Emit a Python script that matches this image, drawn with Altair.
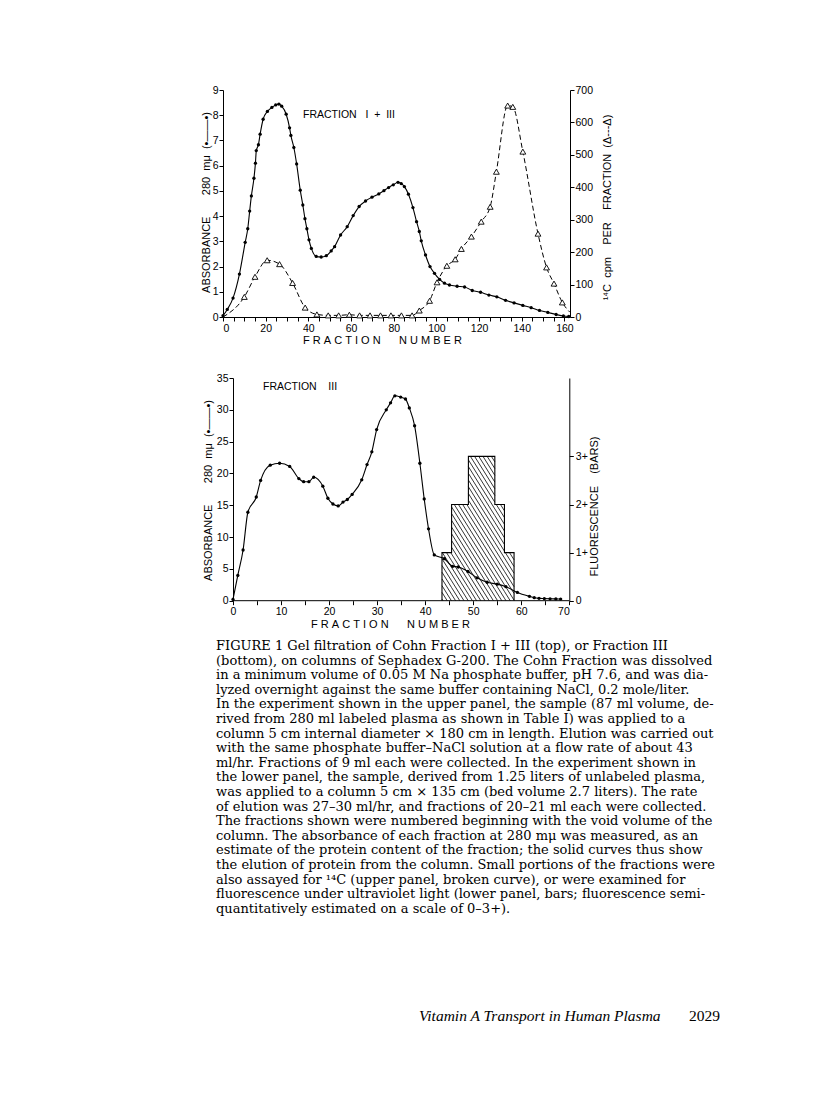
import altair as alt
import pandas as pd
import math

NB = "\u00a0"

# ---------------- data: upper panel (Fraction I + III) ----------------
top_abs_frac = [0, 2, 4.7, 7.7, 10.4, 11.6, 12.5, 13.3, 14.5, 15.2, 15.6, 16.6, 17.4, 18.8, 20.8, 22.9,
                24.7, 26.2, 27.5, 29.6, 31.2, 31.8, 33.2, 34.5, 36.2, 37.4, 38.4, 39.3, 40.3, 41.4, 43.7,
                46.0, 48.4, 50.7, 52.3, 55.1, 58.2, 61.0, 63.8, 66.8, 69.8, 73.0, 75.4, 77.6, 79.8, 82.0,
                83.5, 85.0, 86.9, 89.0, 90.7, 92.0, 92.9, 94.9, 97.0, 99.1, 101.5, 103.8, 106.1, 109.7,
                113.2, 116.8, 120.7, 124.6, 128.3, 132.4, 136.4, 140.5, 144.4, 148.3, 152.2, 156.1, 159.5, 162]
top_abs_val = [0.05, 0.3, 0.75, 1.7, 2.96, 3.5, 4.2, 4.8, 5.5, 6.1, 6.6, 6.83, 7.25, 7.84, 8.15, 8.31,
               8.41, 8.44, 8.36, 8.04, 7.5, 7.2, 6.72, 6.07, 5.03, 4.44, 3.9, 3.5, 3.06, 2.72, 2.4,
               2.38, 2.43, 2.62, 2.79, 3.25, 3.58, 4.02, 4.38, 4.6, 4.75, 4.88, 5.01, 5.13, 5.24, 5.34,
               5.29, 5.17, 4.87, 4.34, 3.78, 3.39, 3.02, 2.46, 2.0, 1.73, 1.49, 1.34, 1.27, 1.22,
               1.19, 1.05, 0.98, 0.87, 0.8, 0.66, 0.56, 0.46, 0.37, 0.26, 0.18, 0.1, 0.04, 0.02]

top_cpm_frac = [0, 10, 15, 20.7, 26.5, 32.6, 38.5, 44, 49.3, 54.2, 59.2, 64, 68.9, 73.8, 78.7, 83.6, 88.6,
                92, 96.8, 100.3, 104.9, 108.8, 111.7, 116.4, 121, 125.2, 128.1, 133.4, 135.8, 140.5,
                147.6, 151.6, 155.1, 159, 162.5]
top_cpm_val = [0, 62, 124, 175, 163, 105, 29, 8, 5, 5, 7, 5, 5, 5, 5, 5, 5,
               20, 50, 107, 158, 178, 210, 248, 294, 340, 448, 652, 648, 510,
               257, 153, 103, 45, 15]
top_cpm_marker = [False] + [True] * 33 + [False]

# ---------------- data: lower panel (Fraction III) ----------------
bot_abs_frac = [0, 1.0, 2.1, 3.1, 4.85, 5.75, 7.75, 9.7, 11.8, 13.7, 14.7, 15.8, 16.8, 18.7, 19.75, 20.8,
                21.9, 22.9, 23.8, 24.8, 26.8, 27.9, 28.9, 29.9, 31.9, 32.8, 33.7, 34.9, 35.9, 36.7, 37.8,
                38.9, 39.8, 40.7, 41.9, 44.0, 45.7, 46.9, 48.9, 50.8, 52.9, 55.0, 56.8, 59.2, 61.7, 62.7,
                63.7, 64.8, 66.0, 67.2, 68.2]
bot_abs_val = [0.2, 3.98, 7.97, 13.9, 16.3, 18.9, 21.3, 21.6, 21.1, 19.2, 18.7, 18.7, 19.4, 18.0, 16.1, 15.2,
               14.9, 15.5, 15.9, 16.7, 19.0, 21.4, 23.4, 26.9, 30.0, 31.1, 32.2, 32.0, 31.7, 30.3, 27.5,
               21.6, 16.0, 11.3, 7.2, 6.6, 5.4, 5.3, 4.6, 3.6, 2.9, 2.6, 2.2, 1.3, 0.68, 0.47,
               0.37, 0.33, 0.3, 0.28, 0.26]

fluor_edges = [43.5, 45.5, 49.0, 54.5, 56.5, 58.5]
fluor_levels = [1, 2, 3, 2, 1]

# ---------------- ticks / labels / text ----------------
top_x_ticks = list(range(0, 161, 5))
top_y_ticks = list(range(0, 10))
top_cpm_ticks = list(range(0, 701, 100))
bot_x_ticks = list(range(0, 71, 5))
bot_y_ticks = list(range(0, 36, 5))
fluor_ticks = [0, 1, 2, 3]


def sp(s):
    return s.replace(" ", NB)


top_panel_label = sp("FRACTION   I  +  III")
bot_panel_label = sp("FRACTION    III")
x_title = sp("F R A C T I O N      N U M B E R")
abs_title = sp("ABSORBANCE       280  mμ  (•——•)")
cpm_title = sp("¹⁴C  cpm    PER    FRACTION  (Δ---Δ)")
fl_title = sp("FLUORESCENCE    (BARS)")

caption_lines = [
    "FIGURE 1  Gel filtration of Cohn Fraction I + III (top), or Fraction III",
    "(bottom), on columns of Sephadex G-200. The Cohn Fraction was dissolved",
    "in a minimum volume of 0.05 M Na phosphate buffer, pH 7.6, and was dia-",
    "lyzed overnight against the same buffer containing NaCl, 0.2 mole/liter.",
    "In the experiment shown in the upper panel, the sample (87 ml volume, de-",
    "rived from 280 ml labeled plasma as shown in Table I) was applied to a",
    "column 5 cm internal diameter × 180 cm in length. Elution was carried out",
    "with the same phosphate buffer–NaCl solution at a flow rate of about 43",
    "ml/hr. Fractions of 9 ml each were collected. In the experiment shown in",
    "the lower panel, the sample, derived from 1.25 liters of unlabeled plasma,",
    "was applied to a column 5 cm × 135 cm (bed volume 2.7 liters). The rate",
    "of elution was 27–30 ml/hr, and fractions of 20–21 ml each were collected.",
    "The fractions shown were numbered beginning with the void volume of the",
    "column. The absorbance of each fraction at 280 mμ was measured, as an",
    "estimate of the protein content of the fraction; the solid curves thus show",
    "the elution of protein from the column. Small portions of the fractions were",
    "also assayed for ¹⁴C (upper panel, broken curve), or were examined for",
    "fluorescence under ultraviolet light (lower panel, bars; fluorescence semi-",
    "quantitatively estimated on a scale of 0–3+).",
]
footer_title = "Vitamin A Transport in Human Plasma"
footer_page = "2029"

FONT = "Liberation Sans"

# ---------------- geometry ----------------
TW, TH = 347, 227
BW, BH = 346.3, 222.7
BX0 = -2.08
FL_MAX = 4.63

# ================= upper panel =================
top_abs_df = pd.DataFrame({"frac": top_abs_frac, "abs": top_abs_val})
top_cpm_df = pd.DataFrame({"frac": top_cpm_frac, "cpm": top_cpm_val, "marker": top_cpm_marker})

x_top = alt.X("frac:Q", scale=alt.Scale(domain=[0, 162.6], nice=False, zero=False),
              axis=alt.Axis(values=top_x_ticks, labelExpr="datum.value % 20 == 0 ? datum.label : ''",
                            title=x_title, titleX=159, titleY=23, titleAlign="center",
                            titleBaseline="middle", labelPadding=2))
y_top_abs = alt.Y("abs:Q", scale=alt.Scale(domain=[0, 9], nice=False),
                  axis=alt.Axis(orient="left", values=top_y_ticks, title=abs_title, titleAngle=270,
                                titleX=-17, titleY=112, titleAlign="center", titleBaseline="middle",
                                labelPadding=1))
y_top_cpm = alt.Y("cpm:Q", scale=alt.Scale(domain=[0, 700], nice=False),
                  axis=alt.Axis(orient="right", values=top_cpm_ticks, title=cpm_title, titleAngle=270,
                                titleX=37, titleY=117, titleAlign="center", titleBaseline="middle",
                                labelPadding=1))

t_abs_line = alt.Chart(top_abs_df).mark_line(interpolate="monotone", color="black", strokeWidth=1.1).encode(
    x=x_top, y=y_top_abs)
t_abs_pts = alt.Chart(top_abs_df).mark_circle(color="black", size=11, opacity=1).encode(x=x_top, y=y_top_abs)
t_label = alt.Chart(pd.DataFrame({"t": [top_panel_label]})).mark_text(
    align="left", baseline="middle", font=FONT, fontSize=10.5, color="black").encode(
    text="t:N", x=alt.value(80), y=alt.value(25))
t_cpm_line = alt.Chart(top_cpm_df).mark_line(interpolate="monotone", color="black", strokeWidth=1,
                                              strokeDash=[5, 3]).encode(x=x_top, y=y_top_cpm)
t_cpm_pts = alt.Chart(top_cpm_df).transform_filter("datum.marker").mark_point(
    shape="triangle-up", filled=True, fill="white", stroke="black", strokeWidth=0.9, size=34,
    opacity=1).encode(x=x_top, y=y_top_cpm)

top = alt.layer(alt.layer(t_abs_line, t_abs_pts, t_label),
                alt.layer(t_cpm_line, t_cpm_pts)).resolve_scale(y="independent").properties(width=TW, height=TH)

# ================= lower panel =================
bot_abs_df = pd.DataFrame({"frac": bot_abs_frac, "abs": bot_abs_val})

# outline of the stepped fluorescence bars
out_x = [fluor_edges[0]] + fluor_edges[:-1] + [fluor_edges[-1]]
out_y = [0] + fluor_levels + [0]
outline_df = pd.DataFrame({"frac": out_x, "fl": out_y, "i": list(range(len(out_x)))})

# diagonal hatching clipped to each bar
XPX = BW / (70 - BX0)
YPX = BH / FL_MAX
slope, gap = 1.6, 4.2
hatch = []
for x0, x1, h in zip(fluor_edges[:-1], fluor_edges[1:], fluor_levels):
    X0, X1, H = x0 * XPX, x1 * XPX, h * YPX
    k0 = math.floor(slope * X0 / (slope * gap)) - 1
    k1 = math.ceil((slope * X1 + H) / (slope * gap)) + 1
    for k in range(k0, k1 + 1):
        c = k * slope * gap
        xa = max(X0, (c - H) / slope)
        xb = min(X1, c / slope)
        if xb > xa + 0.05:
            hatch.append({"frac": xa / XPX, "frac2": xb / XPX,
                          "fl": (c - slope * xa) / YPX, "fl2": (c - slope * xb) / YPX})
hatch_df = pd.DataFrame(hatch)
base_df = pd.DataFrame({"frac": [bot_x_ticks[0]], "frac2": [bot_x_ticks[-1]]})

x_bot = alt.X("frac:Q", scale=alt.Scale(domain=[BX0, 70], nice=False, zero=False),
              axis=alt.Axis(values=bot_x_ticks, domain=False,
                            labelExpr="datum.value % 10 == 0 ? datum.label : ''",
                            title=x_title, titleX=167, titleY=24, titleAlign="center",
                            titleBaseline="middle", labelPadding=2))
y_bot_abs = alt.Y("abs:Q", scale=alt.Scale(domain=[0, 35], nice=False),
                  axis=alt.Axis(orient="left", values=bot_y_ticks, offset=-10, title=abs_title,
                                titleAngle=270, titleX=-25, titleY=112, titleAlign="center",
                                titleBaseline="middle", labelPadding=1))
y_fl = alt.Y("fl:Q", scale=alt.Scale(domain=[0, FL_MAX], nice=False),
             axis=alt.Axis(orient="right", values=fluor_ticks,
                           labelExpr="datum.value == 0 ? '0' : datum.value + '+'",
                           title=fl_title, titleAngle=270, titleX=25, titleY=128, titleAlign="center",
                           titleBaseline="middle", labelPadding=2))

b_hatch = alt.Chart(hatch_df).mark_rule(color="black", strokeWidth=0.8).encode(
    x=x_bot, x2="frac2:Q", y=y_fl, y2="fl2:Q")
b_outline = alt.Chart(outline_df).mark_line(interpolate="step-after", color="black", strokeWidth=1.1).encode(
    x=x_bot, y=y_fl, order="i:Q")
b_base = alt.Chart(base_df).mark_rule(color="black", strokeWidth=1).encode(
    x=x_bot, x2="frac2:Q", y=alt.datum(0))
b_abs_line = alt.Chart(bot_abs_df).mark_line(interpolate="monotone", color="black", strokeWidth=1.1).encode(
    x=x_bot, y=y_bot_abs)
b_abs_pts = alt.Chart(bot_abs_df).mark_circle(color="black", size=11, opacity=1).encode(x=x_bot, y=y_bot_abs)
b_label = alt.Chart(pd.DataFrame({"t": [bot_panel_label]})).mark_text(
    align="left", baseline="middle", font=FONT, fontSize=10.5, color="black").encode(
    text="t:N", x=alt.value(40), y=alt.value(9))

bottom = alt.layer(alt.layer(b_hatch, b_outline, b_base),
                   alt.layer(b_abs_line, b_abs_pts, b_label)).resolve_scale(y="independent").properties(
    width=BW, height=BH)

# ================= caption =================
cap_df = pd.DataFrame({"i": list(range(len(caption_lines))), "t": caption_lines})
cap = alt.Chart(cap_df).transform_calculate(yy="datum.i * 14.6 - 16").mark_text(
    align="left", baseline="middle", font="DejaVu Serif", fontSize=13, color="black").encode(
    x=alt.value(-7), y=alt.Y("yy:Q", scale=None), text="t:N")
foot1 = alt.Chart(pd.DataFrame({"t": [footer_title]})).mark_text(
    align="left", baseline="middle", font="Liberation Serif", fontSize=15.5, fontStyle="italic",
    color="black").encode(x=alt.value(196), y=alt.value(354), text="t:N")
foot2 = alt.Chart(pd.DataFrame({"t": [footer_page]})).mark_text(
    align="left", baseline="middle", font="Liberation Serif", fontSize=15.5, color="black").encode(
    x=alt.value(466), y=alt.value(354), text="t:N")
caption = alt.layer(cap, foot1, foot2).properties(width=500, height=360)

chart = alt.vconcat(top, bottom, caption, spacing=61, bounds="flush").properties(
    padding={"left": 191, "top": 77, "right": 5, "bottom": 5}
).configure_view(strokeWidth=0).configure_axis(
    grid=False, domainColor="black", tickColor="black", labelColor="black", titleColor="black",
    labelFont=FONT, titleFont=FONT, labelFontSize=10.5, titleFontSize=11, titleFontWeight="normal",
    tickSize=4, domainWidth=1, tickWidth=1
)

chart.save("out.html", embed_options={"renderer": "svg", "actions": False})
